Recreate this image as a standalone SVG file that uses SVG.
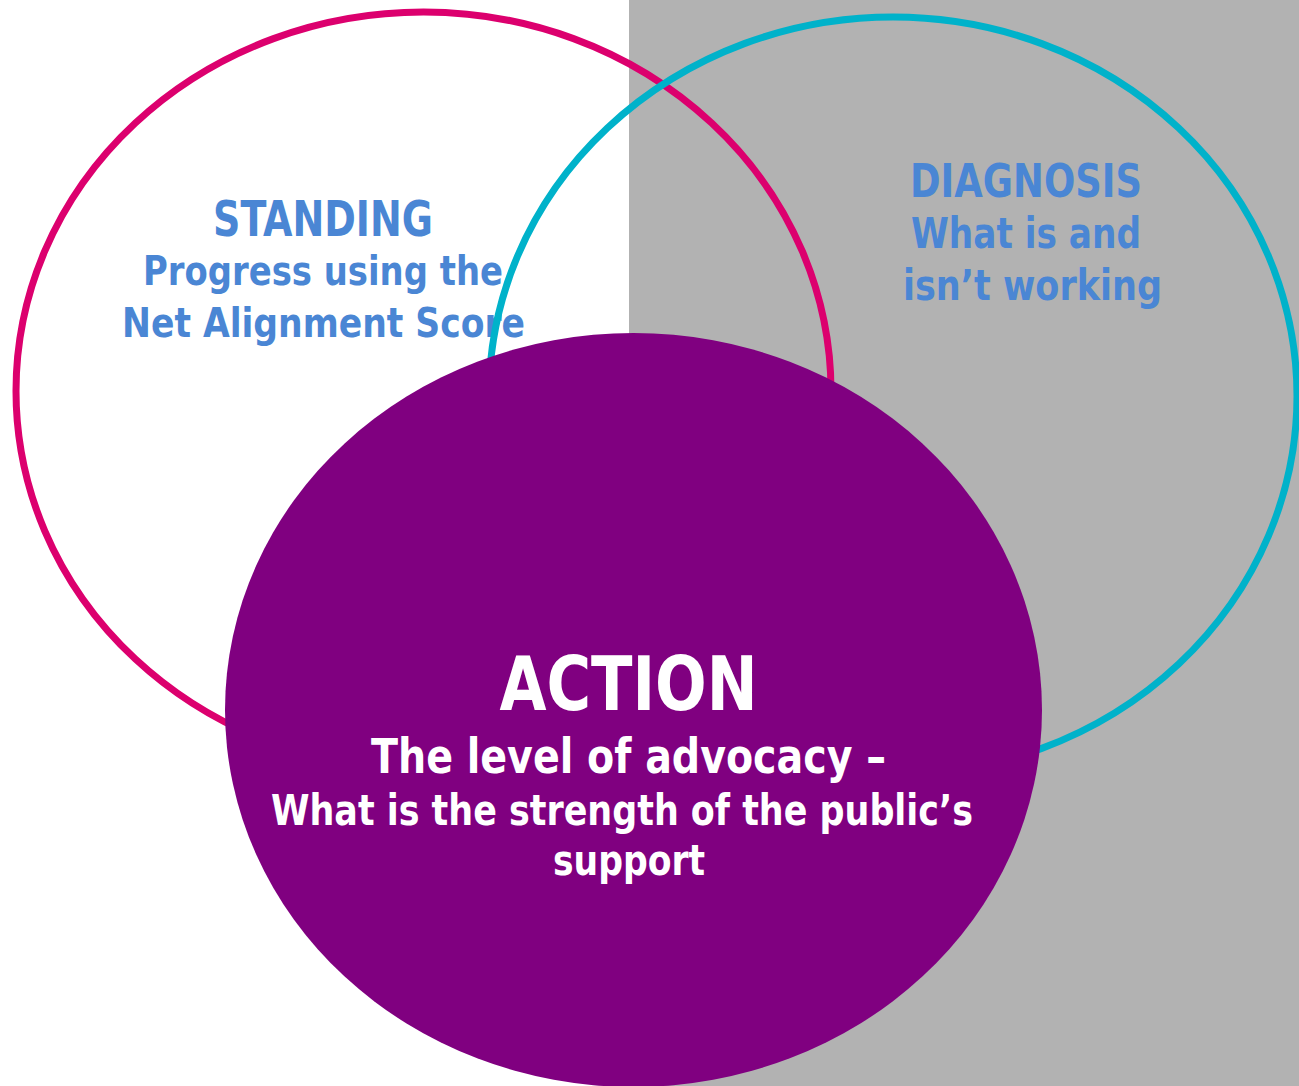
<svg xmlns="http://www.w3.org/2000/svg" width="1299" height="1086" viewBox="0 0 1299 1086">
<style>
.ring{fill:none;stroke-width:7}
.t{font-family:"DejaVu Sans Condensed","DejaVu Sans",sans-serif;font-weight:bold;text-anchor:middle}
.blue{fill:#4A86D4}
.white{fill:#FFFFFF}
</style>
<rect x="0" y="0" width="1299" height="1086" fill="#FFFFFF"/>
<rect x="629" y="0" width="670" height="1086" fill="#B2B2B2"/>
<g id="standing">
<ellipse class="ring" cx="423.5" cy="391" rx="407.5" ry="379" stroke="#DC006E"/>
<text class="t blue" x="323" y="236" font-size="50" textLength="220" lengthAdjust="spacingAndGlyphs">STANDING</text>
<text class="t blue" x="323" y="285" font-size="40" textLength="360" lengthAdjust="spacingAndGlyphs">Progress using the</text>
<text class="t blue" x="323.5" y="337" font-size="40" textLength="403" lengthAdjust="spacingAndGlyphs">Net Alignment Score</text>
</g>
<g id="diagnosis">
<ellipse class="ring" cx="893" cy="396" rx="404" ry="379" stroke="#00B2CA"/>
<text class="t blue" x="1026" y="197" font-size="47" textLength="232" lengthAdjust="spacingAndGlyphs">DIAGNOSIS</text>
<text class="t blue" x="1026" y="248" font-size="42" textLength="230" lengthAdjust="spacingAndGlyphs">What is and</text>
<text class="t blue" x="1032.5" y="300" font-size="42" textLength="259" lengthAdjust="spacingAndGlyphs">isn’t working</text>
</g>
<g id="action">
<ellipse cx="633.5" cy="710" rx="408.5" ry="377" fill="#800080"/>
<text class="t white" x="628.5" y="710" font-size="75" textLength="258" lengthAdjust="spacingAndGlyphs">ACTION</text>
<text class="t white" x="628.5" y="773" font-size="48" textLength="515" lengthAdjust="spacingAndGlyphs">The level of advocacy –</text>
<text class="t white" x="622" y="825" font-size="42" textLength="702" lengthAdjust="spacingAndGlyphs">What is the strength of the public’s</text>
<text class="t white" x="629" y="875" font-size="42" textLength="152" lengthAdjust="spacingAndGlyphs">support</text>
</g>
<g id="connectors"/>
</svg>
